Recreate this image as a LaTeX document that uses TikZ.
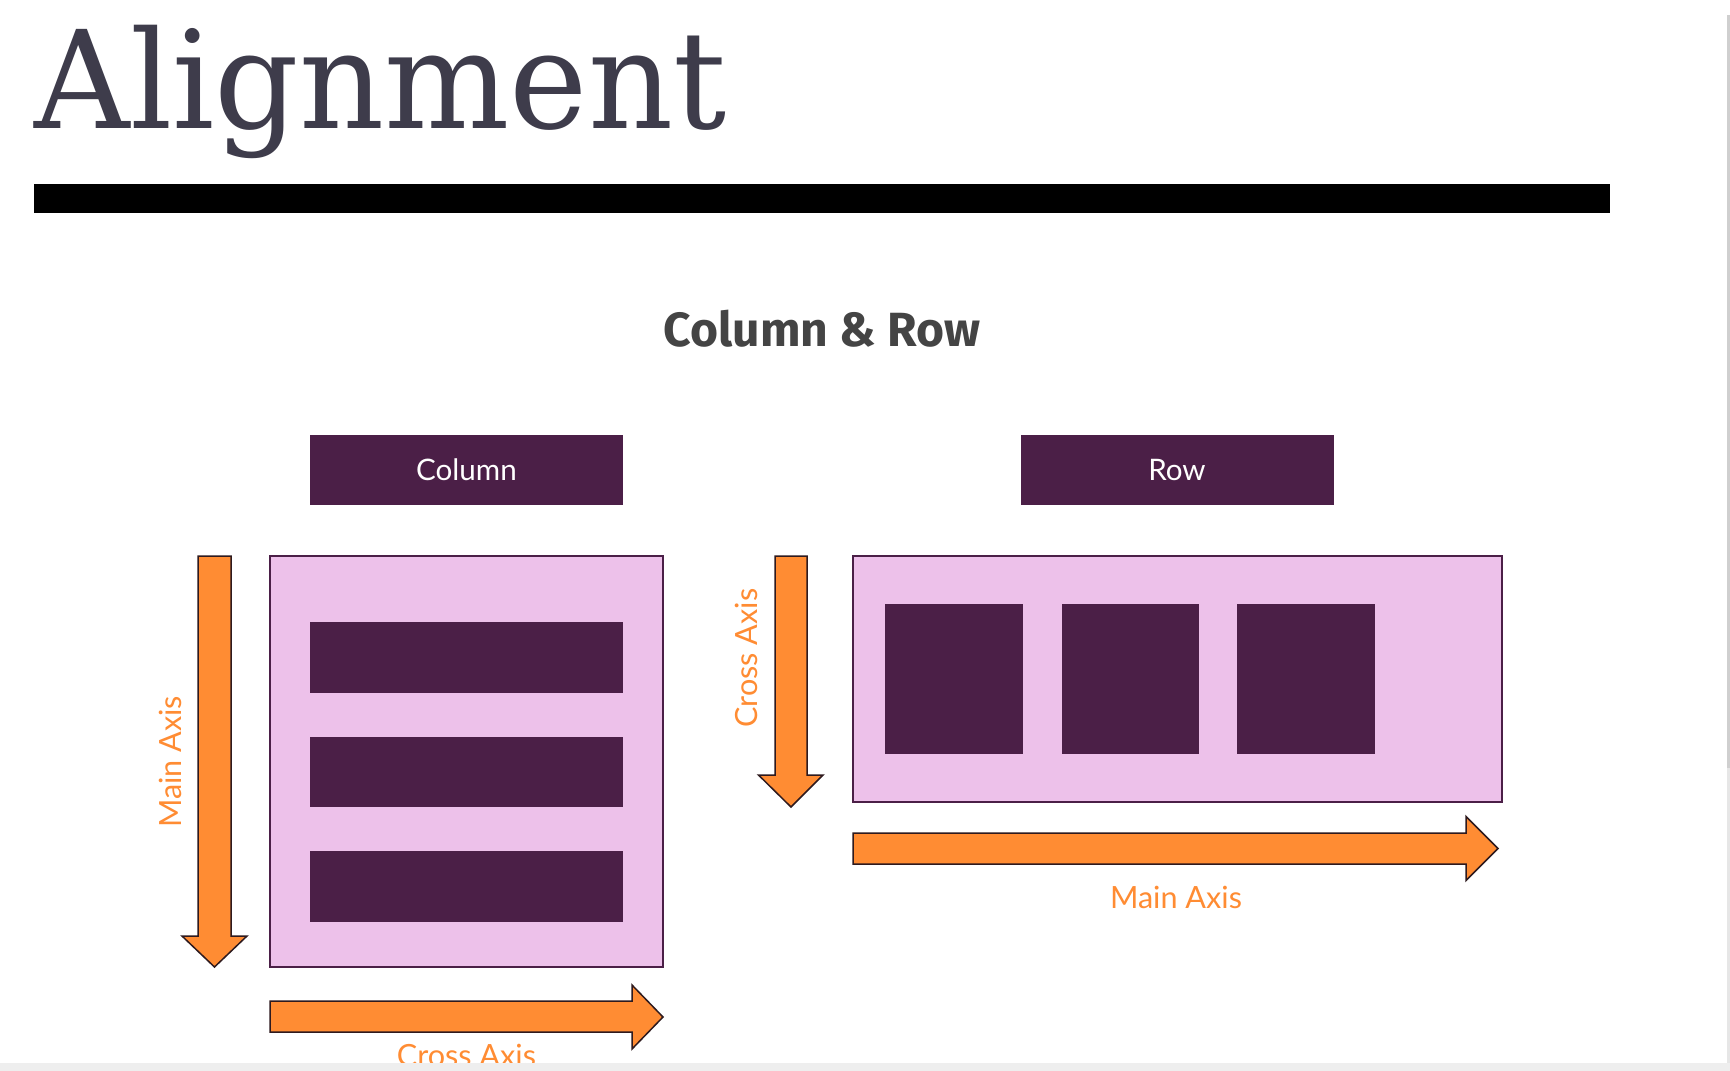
\documentclass[tikz,border=0pt]{standalone}
\usepackage{fontspec}
\setmainfont{DejaVu Serif}
\newfontfamily\headfont{Fira Sans}
\newfontfamily\labfont{Lato}
\definecolor{titlecol}{HTML}{3E3C4B}
\definecolor{subcol}{HTML}{444444}
\definecolor{darkpurple}{HTML}{4B1F47}
\definecolor{lightpink}{HTML}{EDC1EA}
\definecolor{orangecol}{HTML}{FF8C33}
\definecolor{outlinecol}{HTML}{2E1A1E}
\definecolor{stripgrey}{HTML}{EEEEEE}
\definecolor{barDark}{HTML}{CFCFCF}
\definecolor{barLight}{HTML}{E6E6E6}
\tikzset{
  container/.style={fill=lightpink, draw=darkpurple, line width=0.8pt},
  item/.style={fill=darkpurple},
  header/.style={fill=darkpurple, draw=none, text=white, font=\labfont\fontsize{14.8}{17}\selectfont, inner sep=0pt},
  axisarrow/.style={fill=orangecol, draw=outlinecol, line width=0.75pt, line join=miter},
  axislabel/.style={text=orangecol, font=\labfont\fontsize{15.3}{18}\selectfont, inner sep=0pt},
}
\begin{document}
\begin{tikzpicture}[x=0.5pt,y=-0.5pt]
\useasboundingbox (0,0) rectangle (1730,1071);
\fill[white] (0,0) rectangle (1730,1071);

% Title
\node[anchor=base west, inner sep=0pt, text=titlecol, font=\fontsize{68}{80}\selectfont] (title) at (34.5,128) {\scalebox{0.972}[1]{Alignment}};
\fill[black] (34,184) rectangle (1610,213);

% Subtitle
\node[anchor=base, inner sep=0pt, text=subcol, font=\headfont\bfseries\fontsize{24}{28}\selectfont] (sub) at (822,346) {Column \& Row};

% Headers
\fill[darkpurple] (310,435) rectangle (623,505);
\node[header, anchor=base] (colhead) at (466.5,480) {Column};
\fill[darkpurple] (1020.5,435) rectangle (1334,505);
\node[header, anchor=base] (rowhead) at (1177,480) {Row};

% Column container
\draw[container] (270,556) rectangle (663,967);
\fill[item] (310,622) rectangle (623,693);
\fill[item] (310,737) rectangle (623,807);
\fill[item] (310,851) rectangle (623,922);

% Column arrows
\draw[axisarrow] (198,556) -- (231,556) -- (231,936) -- (247,936) -- (214.5,967) -- (182,936) -- (198,936) -- cycle;
\node[axislabel, rotate=90, anchor=base] (colmain) at (181,762) {Main Axis};
\draw[axisarrow] (270,1001) -- (632,1001) -- (632,985) -- (663,1017) -- (632,1049) -- (632,1032) -- (270,1032) -- cycle;
\node[axislabel, anchor=base] (colcross) at (466.5,1066) {Cross Axis};

% Row container
\draw[container] (853,556) rectangle (1502,802);
\fill[item] (885,604) rectangle (1023,754);
\fill[item] (1061.5,604) rectangle (1199,754);
\fill[item] (1237,604) rectangle (1375,754);

% Row arrows
\draw[axisarrow] (775,556) -- (807,556) -- (807,775) -- (823,775) -- (791,807) -- (758.5,775) -- (775,775) -- cycle;
\node[axislabel, rotate=90, anchor=base] (rowcross) at (757,658) {Cross Axis};
\draw[axisarrow] (853,833) -- (1466,833) -- (1466,816.5) -- (1498,848.5) -- (1466,880.5) -- (1466,864) -- (853,864) -- cycle;
\node[axislabel, anchor=base] (rowmain) at (1176,908) {Main Axis};

% Window chrome
\fill[stripgrey] (0,1063) rectangle (1730,1071);
\fill[barDark] (1727,15) rectangle (1730,768);
\fill[barLight] (1727,768) rectangle (1730,1063);
\end{tikzpicture}
\end{document}
